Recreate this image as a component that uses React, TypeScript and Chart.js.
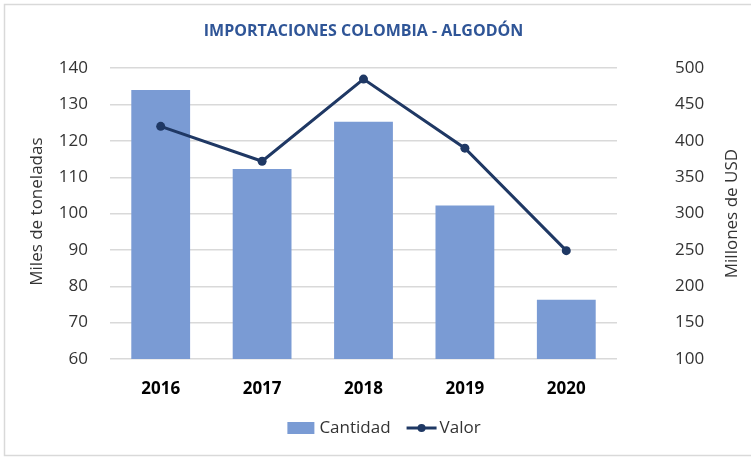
import React, { useEffect, useRef } from "react";
import { Chart, registerables } from "chart.js";

Chart.register(...registerables);

const titleText = "IMPORTACIONES COLOMBIA - ALGODÓN";
const categories = ["2016", "2017", "2018", "2019", "2020"];
const cantidad = [134.0, 112.3, 125.3, 102.2, 76.3];
const valor = [420, 372, 485, 390, 249];
const leftLabel = "Miles de toneladas";
const rightLabel = "Millones de USD";
const seriesNames = ["Cantidad", "Valor"];

const BAR_COLOR = "#7A9BD4";
const LINE_COLOR = "#1F3864";
const TEXT = "#333333";
const FONT = "'Open Sans', sans-serif";

const decorPlugin = {
  id: "decor",
  beforeDraw(chart: any) {
    const ctx = chart.ctx;
    ctx.save();
    ctx.fillStyle = "#ffffff";
    ctx.fillRect(0, 0, chart.width, chart.height);
    ctx.strokeStyle = "#D9D9D9";
    ctx.lineWidth = 1.5;
    ctx.strokeRect(4.5, 4.5, chart.width + 10, chart.height - 6);
    ctx.restore();
  },
  afterDraw(chart: any) {
    const ctx = chart.ctx;
    const area = chart.chartArea;
    const midY = (area.top + area.bottom) / 2;
    ctx.save();
    // title
    ctx.fillStyle = "#2F5597";
    ctx.font = `bold 16px ${FONT}`;
    ctx.textAlign = "center";
    ctx.textBaseline = "middle";
    ctx.fillText(titleText, (area.left + area.right) / 2, 31);

    // axis titles
    ctx.fillStyle = TEXT;
    ctx.font = `17px ${FONT}`;
    ctx.save();
    ctx.translate(37, midY - 2);
    ctx.rotate(-Math.PI / 2);
    ctx.fillText(leftLabel, 0, 0);
    ctx.restore();
    ctx.save();
    ctx.translate(732, midY);
    ctx.rotate(-Math.PI / 2);
    ctx.fillText(rightLabel, 0, 0);
    ctx.restore();

    // legend
    const ly = 428;
    const wC = ctx.measureText(seriesNames[0]).width;
    const wV = ctx.measureText(seriesNames[1]).width;
    const total = 27 + 5 + wC + 16 + 30 + 3 + wV;
    let x = 384 - total / 2;
    ctx.fillStyle = BAR_COLOR;
    ctx.fillRect(x, ly - 6, 27, 12);
    x += 27 + 5;
    ctx.fillStyle = TEXT;
    ctx.textAlign = "left";
    ctx.fillText(seriesNames[0], x, ly);
    x += wC + 16;
    ctx.strokeStyle = LINE_COLOR;
    ctx.lineWidth = 3;
    ctx.beginPath();
    ctx.moveTo(x, ly);
    ctx.lineTo(x + 30, ly);
    ctx.stroke();
    ctx.fillStyle = LINE_COLOR;
    ctx.beginPath();
    ctx.arc(x + 15, ly, 4, 0, Math.PI * 2);
    ctx.fill();
    x += 30 + 3;
    ctx.fillStyle = TEXT;
    ctx.fillText(seriesNames[1], x, ly);
    ctx.restore();
  },
};

export default function App() {
  const ref = useRef<HTMLCanvasElement | null>(null);

  useEffect(() => {
    document.body.style.margin = "0";
    const chart = new Chart(ref.current!, {
      type: "bar",
      data: {
        labels: categories,
        datasets: [
          {
            type: "line",
            label: seriesNames[1],
            data: valor,
            yAxisID: "y1",
            borderColor: LINE_COLOR,
            backgroundColor: LINE_COLOR,
            borderWidth: 3,
            pointRadius: 4.5,
            pointBackgroundColor: LINE_COLOR,
            pointBorderWidth: 0,
            tension: 0,
            order: 0,
          },
          {
            type: "bar",
            label: seriesNames[0],
            data: cantidad,
            yAxisID: "y",
            backgroundColor: BAR_COLOR,
            borderWidth: 0,
            categoryPercentage: 0.58,
            barPercentage: 1,
            order: 1,
          },
        ],
      },
      options: {
        animation: false,
        responsive: false,
        maintainAspectRatio: false,
        layout: { padding: { left: 4, right: 0, top: 67, bottom: 0 } },
        plugins: {
          title: { display: false },
          legend: { display: false },
          tooltip: { enabled: false },
        },
        scales: {
          x: {
            grid: { display: false },
            border: { display: false },
            afterFit: (s: any) => {
              s.height = 98;
            },
            ticks: {
              color: "#000000",
              font: { family: FONT, size: 17, weight: "bold" },
              padding: 12,
            },
          },
          y: {
            position: "left",
            min: 60,
            max: 140,
            afterFit: (s: any) => {
              s.width = 106;
            },
            ticks: {
              stepSize: 10,
              color: TEXT,
              font: { family: FONT, size: 17 },
              padding: 22,
            },
            grid: { color: "#D9D9D9", lineWidth: 1.5, drawTicks: false },
            border: { display: false },
          },
          y1: {
            position: "right",
            min: 100,
            max: 500,
            afterFit: (s: any) => {
              s.width = 134;
            },
            ticks: {
              stepSize: 50,
              color: TEXT,
              font: { family: FONT, size: 17 },
              padding: 58,
            },
            grid: { display: false, drawTicks: false },
            border: { display: false },
          },
        },
      },
      plugins: [decorPlugin],
    });
    return () => chart.destroy();
  }, []);

  return (
    <div style={{ width: 751, height: 457 }}>
      <canvas ref={ref} width={751} height={457} style={{ width: 751, height: 457 }} />
    </div>
  );
}
